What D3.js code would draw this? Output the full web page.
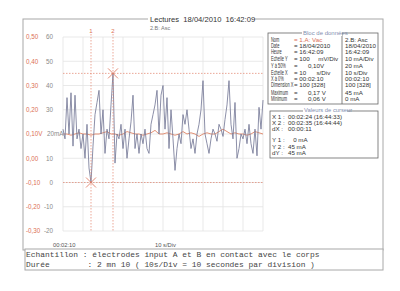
<!DOCTYPE html>
<html>
<head>
<meta charset="utf-8">
<script src="https://cdn.jsdelivr.net/npm/d3@7"></script>
<style>
  body { margin: 0; background: #fff; }
  svg { display: block; font-family: "Liberation Sans", Arial, sans-serif; }
  .pre { white-space: pre; }
</style>
</head>
<body>
<div id="chart"></div>
<script>
// 2.B: Asc, mA, un point par seconde depuis 00:02:10
var ascValues = [22, 18, 35, 20, 37, 15, 36, 18, 22, 14, 20, 10, 24, 6, 0, 15, 28, 33, 38, 20,
  30, 12, 22, 18, 32, 45, 8, 20, 18, 24, 14, 22, 10, 18, 25, 36, 14, 20, 12, 20,
  16, 22, 14, 12, 24, 28, 32, 38, 20, 36, 40, 22, 35, 14, 30, 18, 5, 14, 20, 16,
  28, 24, 30, 22, 14, 18, 12, 20, 24, 30, 42, 20, 16, 12, 18, 22, 20, 17, 24, 22,
  19, 26, 32, 42, 24, 18, 33, 10, 14, 20, 18, 22, 16, 24, 16, 12, 22, 11, 31, 22, 34];

// 1.A: Vac, V, un point toutes les 2 s
var vacValues = [0.10, 0.10, 0.095, 0.10, 0.105, 0.10, 0.10, 0.095, 0.10, 0.10,
  0.105, 0.11, 0.10, 0.10, 0.095, 0.10, 0.11, 0.105, 0.10, 0.10,
  0.095, 0.10, 0.105, 0.115, 0.10, 0.10, 0.105, 0.10, 0.095, 0.10,
  0.11, 0.10, 0.105, 0.10, 0.09, 0.10, 0.105, 0.10, 0.10, 0.11,
  0.12, 0.11, 0.10, 0.105, 0.10, 0.10, 0.095, 0.10, 0.11, 0.105, 0.10];

var voltTicks = [0.5, 0.4, 0.3, 0.2, 0.1, 0, -0.1, -0.2, -0.3];
var voltLabels = ["0,50", "0,40", "0,30", "0,20", "0,10V", "0,00", "-0,10", "-0,20", "-0,30"];
var mALabels = ["60", "50", "40", "30", "20mA", "10", "0", "-10", "-20"];
var timeTicks = [0, 10, 20, 30, 40, 50, 60, 70, 80, 90, 100];

var cursorX = [14, 25];   // secondes
var cursorY = [0, 45];    // mA

var dataLabels = ["Nom", "Date", "Heure", "Echelle Y", "Y à 50%", "Echelle X", "X à 0%", "Dimension X", "Maximum", "Minimum"];
var vacInfo = ["= 1.A: Vac", "= 18/04/2010", "= 16:42:09", "= 100     mV/Div", "=      0,10V", "= 10      s/Div", "= 00:02:10", "= 100 [328]", "=      0,17 V", "=      0,06 V"];
var ascInfo = ["2.B: Asc", "18/04/2010", "16:42:09", "10 mA/Div", "20 mA", "10 s/Div", "00:02:10", "100 [328]", "45 mA", "0 mA"];

var cursorLabels = ["X 1 :", "X 2 :", "dX :", "Y 1 :", "Y 2 :", "dY :"];
var cursorInfo = ["00:02:24 (16:44:33)", "00:02:35 (16:44:44)", "00:00:11", "   0 mA", "45 mA", "45 mA"];

var footerLines = [
  "Echantillon : électrodes input A et B en contact avec le corps",
  "Durée        : 2 mn 10 ( 10s/Div = 10 secondes par division )"
];

var width = 400, height = 291;
var red = "#dc6f55", grey = "#8a8a8a", frame = "#a8a8a8";

var svg = d3.select("#chart").append("svg")
  .attr("width", width)
  .attr("height", height);

// cadre général
svg.append("rect").attr("x", 23).attr("y", 19).attr("width", 360).attr("height", 231)
  .attr("fill", "none").attr("stroke", frame).attr("stroke-width", 1);
svg.append("rect").attr("x", 148).attr("y", 13).attr("width", 106).attr("height", 9).attr("fill", "#fff");
svg.append("text").attr("x", 150).attr("y", 21.5)
  .attr("class", "pre").attr("font-size", 7.6).attr("fill", "#333")
  .text("Lectures  18/04/2010  16:42:09");
svg.append("text").attr("x", 150).attr("y", 30)
  .attr("font-size", 5.5).attr("fill", "#777").text("2.B: Asc");

// échelles
var x = d3.scaleLinear().domain([0, 100]).range([63, 263]);
var yV = d3.scaleLinear().domain([-0.3, 0.5]).range([231, 37]);
var yA = d3.scaleLinear().domain([-20, 60]).range([231, 37]);

var g = svg.append("g");

// grille
g.selectAll(".vgrid").data(timeTicks).enter().append("line")
  .attr("x1", d => x(d)).attr("x2", d => x(d))
  .attr("y1", yV(0.5)).attr("y2", yV(-0.3))
  .attr("stroke", "#e3e3e3").attr("stroke-width", 0.8);
g.selectAll(".hgrid").data(voltTicks).enter().append("line")
  .attr("x1", x(0)).attr("x2", x(100))
  .attr("y1", d => yV(d)).attr("y2", d => yV(d))
  .attr("stroke", "#e3e3e3").attr("stroke-width", 0.8);

// libellés des axes
g.selectAll(".vlab").data(voltTicks).enter().append("text")
  .attr("x", 26).attr("y", d => yV(d) + 2.3)
  .attr("font-size", 6.3).attr("fill", red)
  .text((d, i) => voltLabels[i]);
g.selectAll(".alab").data(voltTicks).enter().append("text")
  .attr("x", (d, i) => mALabels[i] === "20mA" ? 47 : 53)
  .attr("y", d => yV(d) + 2.3)
  .attr("text-anchor", (d, i) => mALabels[i] === "20mA" ? "start" : "end")
  .attr("font-size", 6.3).attr("fill", grey)
  .text((d, i) => mALabels[i]);

svg.append("text").attr("x", 53).attr("y", 247).attr("font-size", 5.8).attr("fill", "#555").text("00:02:10");
svg.append("text").attr("x", 155).attr("y", 247).attr("font-size", 5.8).attr("fill", "#555").text("10 s/Div");

// courbes
var ascLine = d3.line().x((d, i) => x(i)).y(d => yA(d));
var vacLine = d3.line().x((d, i) => x(i * 2)).y(d => yV(d));

g.append("path").datum(vacValues)
  .attr("d", vacLine).attr("fill", "none")
  .attr("stroke", "#e08466").attr("stroke-width", 0.9);
g.append("path").datum(ascValues)
  .attr("d", ascLine).attr("fill", "none")
  .attr("stroke", "#777b98").attr("stroke-width", 0.85);

// curseurs
cursorX.forEach((c, i) => {
  g.append("line")
    .attr("x1", x(c)).attr("x2", x(c))
    .attr("y1", 34).attr("y2", yV(-0.3))
    .attr("stroke", "#e2826c").attr("stroke-width", 0.7).attr("stroke-dasharray", "1.5,1.5");
  g.append("text").attr("x", x(c)).attr("y", 33)
    .attr("text-anchor", "middle").attr("font-size", 6).attr("fill", red)
    .text(i + 1);
});
cursorY.forEach((c, i) => {
  g.append("line")
    .attr("x1", x(0)).attr("x2", x(100))
    .attr("y1", yA(c)).attr("y2", yA(c))
    .attr("stroke", "#e2826c").attr("stroke-width", 0.7).attr("stroke-dasharray", "1.5,1.5");
  var cx = x(cursorX[i]), cy = yA(c), s = 5;
  g.append("path")
    .attr("d", `M${cx - s},${cy - s}L${cx + s},${cy + s}M${cx - s},${cy + s}L${cx + s},${cy - s}`)
    .attr("stroke", red).attr("stroke-width", 0.8);
});

// bloc de données
var box = svg.append("g");
box.append("rect").attr("x", 268).attr("y", 33).attr("width", 110).attr("height", 71)
  .attr("fill", "#fff").attr("stroke", "#666").attr("stroke-width", 0.8);
box.append("line").attr("x1", 342).attr("x2", 342).attr("y1", 33).attr("y2", 104)
  .attr("stroke", "#666").attr("stroke-width", 0.8);
box.append("rect").attr("x", 302).attr("y", 29).attr("width", 40).attr("height", 7).attr("fill", "#fff");
box.append("text").attr("x", 303).attr("y", 35).attr("font-size", 6).attr("fill", "#7f8fb0").text("Bloc de données");

var rowY = [42, 48, 54, 61, 68, 75, 81, 87, 95, 101];
dataLabels.forEach((t, i) => {
  box.append("text")
    .attr("transform", `translate(271,${rowY[i]}) scale(0.62,1)`)
    .attr("font-size", 6.4).attr("fill", "#333").text(t);
  box.append("text").attr("class", "pre")
    .attr("x", 294).attr("y", rowY[i])
    .attr("font-size", 6.2).attr("fill", i === 0 ? red : "#333").text(vacInfo[i]);
  box.append("text")
    .attr("x", 345).attr("y", rowY[i])
    .attr("font-size", 6.2).attr("fill", "#333").text(ascInfo[i]);
});

// valeurs de curseur
var cbox = svg.append("g");
cbox.append("rect").attr("x", 270).attr("y", 111).attr("width", 108).attr("height", 47)
  .attr("fill", "#fff").attr("stroke", "#666").attr("stroke-width", 0.8);
cbox.append("rect").attr("x", 303).attr("y", 107).attr("width", 44).attr("height", 6).attr("fill", "#fff");
cbox.append("text").attr("x", 304).attr("y", 112).attr("font-size", 5.8).attr("fill", "#7f8fb0").text("Valeurs de curseur");

var crowY = [119, 125, 131, 142, 149, 155];
cursorLabels.forEach((t, i) => {
  cbox.append("text").attr("class", "pre")
    .attr("x", 272).attr("y", crowY[i])
    .attr("font-size", 6.2).attr("fill", "#333").text(t);
  cbox.append("text").attr("class", "pre")
    .attr("x", 288).attr("y", crowY[i])
    .attr("font-size", 6.2).attr("fill", "#333").text(cursorInfo[i]);
});

// pied de page
svg.append("rect").attr("x", 25).attr("y", 249).attr("width", 358).attr("height", 21)
  .attr("fill", "#fff").attr("stroke", frame).attr("stroke-width", 1);
footerLines.forEach((t, i) => {
  svg.append("text").attr("class", "pre")
    .attr("x", 26).attr("y", 257 + i * 10)
    .attr("font-family", "'Liberation Mono', monospace")
    .attr("font-size", 7.9).attr("fill", "#444").text(t);
});
</script>
</body>
</html>
